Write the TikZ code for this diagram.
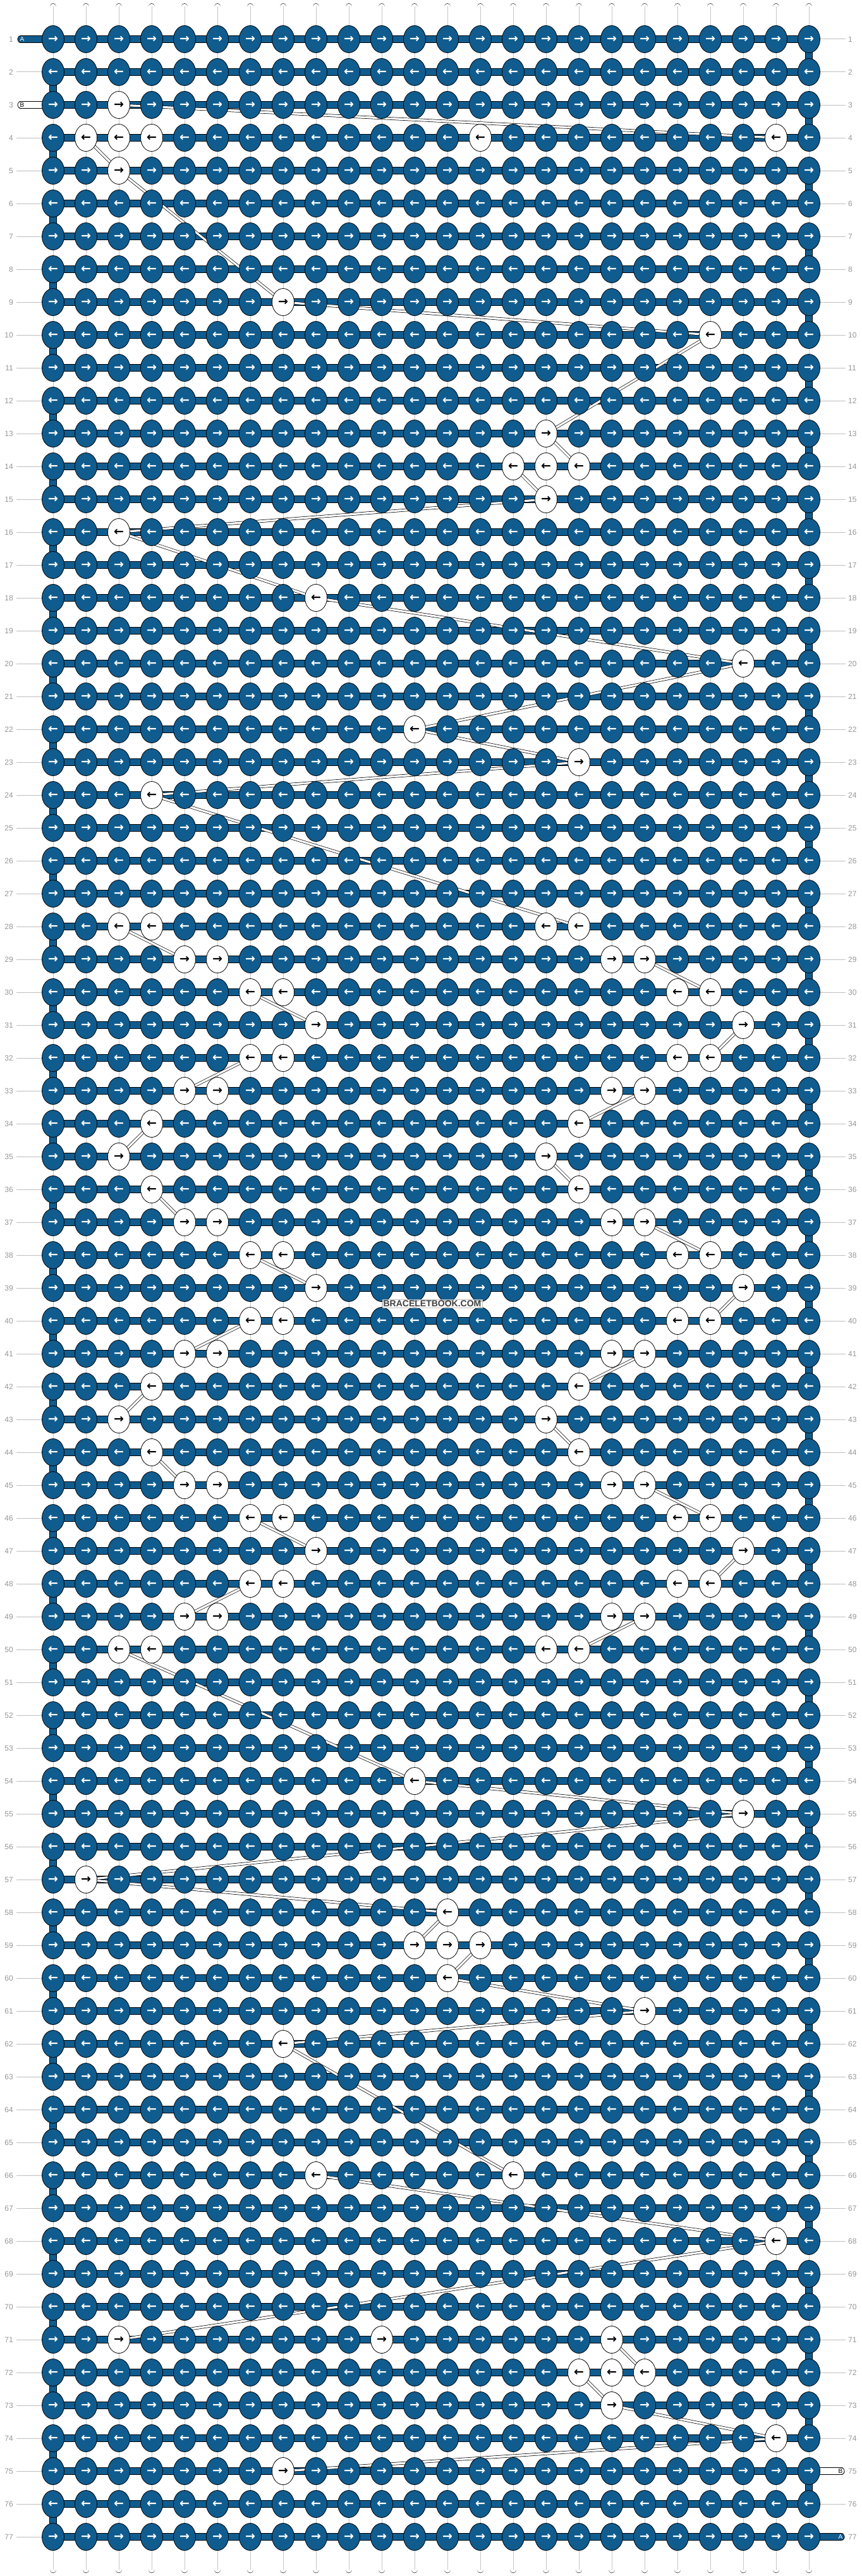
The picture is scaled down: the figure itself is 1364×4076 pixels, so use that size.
\documentclass[tikz,border=0pt]{standalone}
\usepackage{fontspec}
\setmainfont{Liberation Sans}
\newfontfamily\arrowfont{DejaVu Sans}
\usepackage{tikz}
\usetikzlibrary{shapes.geometric}

\definecolor{knotblue}{RGB}{16,92,143}
\definecolor{numgray}{RGB}{150,150,150}
\definecolor{linegray}{RGB}{190,190,190}

\pgfdeclarelayer{strings}
\pgfdeclarelayer{bars}
\pgfdeclarelayer{threads}
\pgfsetlayers{strings,bars,threads,main}

% knots tied with thread B (row/columns)
\newcommand\whiteknots{3/{3},4/{2,3,4,14,23},5/{3},9/{8},10/{21},13/{16},14/{15,16,17},15/{16},16/{3},18/{9},20/{22},22/{12},23/{17},24/{4},28/{3,4,16,17},29/{5,6,18,19},30/{7,8,20,21},31/{9,22},32/{7,8,20,21},33/{5,6,18,19},34/{4,17},35/{3,16},36/{4,17},37/{5,6,18,19},38/{7,8,20,21},39/{9,22},40/{7,8,20,21},41/{5,6,18,19},42/{4,17},43/{3,16},44/{4,17},45/{5,6,18,19},46/{7,8,20,21},47/{9,22},48/{7,8,20,21},49/{5,6,18,19},50/{3,4,16,17},54/{12},55/{22},57/{2},58/{13},59/{12,13,14},60/{13},61/{19},62/{8},66/{9,15},68/{23},71/{3,11,18},72/{17,18,19},73/{18},74/{23},75/{8}}

\begin{document}
\begin{tikzpicture}[x=1pt, y=-1pt,
      knot/.style={ellipse, draw=black, line width=0.8pt, minimum width=35pt, minimum height=43pt, inner sep=0pt, font=\arrowfont\bfseries\fontsize{19}{19}\selectfont},
      strand/.style={draw=black, double=white, line width=0.7pt, double distance=9.3pt, line cap=round},
      strandmid/.style={draw=gray!45, line width=0.8pt},
      bar/.style={draw=black, double=knotblue, line width=0.9pt, double distance=9.5pt},
      wbar/.style={draw=black, double=white, line width=0.9pt, double distance=9.5pt},
      bthread/.style={draw=black, double=white, line width=0.7pt, double distance=3.2pt},
      rownum/.style={inner sep=0pt, text=numgray, font=\fontsize{12}{12}\selectfont},
      numline/.style={draw=linegray, line width=1pt},
      lbl/.style={inner sep=0pt, font=\fontsize{10}{10}\selectfont},
      watermark/.style={draw=gray!50, line width=0.5pt, fill=white, fill opacity=0.7, draw opacity=1, text opacity=1, text=black!75, inner sep=1.5pt, font=\bfseries\fontsize{14}{14}\selectfont}
      ]
    \useasboundingbox (0,0) rectangle (1364,4076);

    % mark the B knots
    \foreach \r/\cl in \whiteknots {
      \foreach \c in \cl {\expandafter\gdef\csname wk-\r-\c\endcsname{}}
    }

    % Knots
    \foreach \r in {1,...,77}{
      \ifodd\r \def\karrow{→}\else\def\karrow{←}\fi
      \foreach \c in {1,...,24}{
        \ifcsname wk-\r-\c\endcsname \def\kfill{white}\def\ktext{black}\else\def\kfill{knotblue}\def\ktext{white}\fi
        \node[knot, fill=\kfill, text=\ktext] (k-\r-\c) at ({84+52*(\c-1)},{62+52*(\r-1)}) {\karrow};
      }
    }

    % Strings
    \begin{pgfonlayer}{strings}
    \foreach \c in {1,...,24}{
      \coordinate (top-\c) at ({84+52*(\c-1)},10.5);
      \coordinate (bot-\c) at ({84+52*(\c-1)},4066);
      \draw[strand] (top-\c) -- (bot-\c);
      \draw[strandmid] (top-\c) -- (bot-\c);
    }
    \end{pgfonlayer}

    % Thread A rows and turns
    \coordinate (a-in) at (33,62);
    \coordinate (b-in) at (33,166);
    \coordinate (b-out) at (1331,3910);
    \coordinate (a-out) at (1331,4014);
    \begin{pgfonlayer}{bars}
    \foreach \r in {1,...,77}{
      \draw[bar] (k-\r-1.center) -- (k-\r-24.center);
    }
    \foreach \r [evaluate=\r as \s using int(\r+1)] in {1,3,...,75}{
      \draw[bar] (k-\r-24.center) -- (k-\s-24.center);
    }
    \foreach \r [evaluate=\r as \s using int(\r+1)] in {2,4,...,76}{
      \draw[bar] (k-\r-1.center) -- (k-\s-1.center);
    }
    \draw[bar, line cap=round] (a-in) -- (k-1-1.center);
    \draw[wbar, line cap=round] (b-in) -- (k-3-1.center);
    \draw[wbar, line cap=round] (k-75-24.center) -- (b-out);
    \draw[bar, line cap=round] (k-77-24.center) -- (a-out);
    \end{pgfonlayer}

    \node[lbl, text=white] (a-in-l) at (35,62) {A};
    \node[lbl, text=black] (b-in-l) at (35,166) {B};
    \node[lbl, text=black] (b-out-l) at (1330,3910) {B};
    \node[lbl, text=white] (a-out-l) at (1330,4014) {A};

    % Thread B behind the work
    \begin{pgfonlayer}{threads}
    \foreach \ra/\ca/\rb/\cb in {3/3/4/23, 4/2/5/3, 5/3/9/8, 9/8/10/21, 10/21/13/16, 13/16/14/17,
        14/15/15/16, 15/16/16/3, 16/3/18/9, 18/9/20/22, 20/22/22/12, 22/12/23/17, 23/17/24/4,
        24/4/28/17, 28/3/29/5, 29/19/30/21, 30/7/31/9, 31/22/32/21, 32/7/33/5, 33/19/34/17,
        34/4/35/3, 35/16/36/17, 36/4/37/5, 37/19/38/21, 38/7/39/9, 39/22/40/21, 40/7/41/5,
        41/19/42/17, 42/4/43/3, 43/16/44/17, 44/4/45/5, 45/19/46/21, 46/7/47/9, 47/22/48/21,
        48/7/49/5, 49/19/50/17, 50/3/54/12, 54/12/55/22, 55/22/57/2, 57/2/58/13, 58/13/59/12,
        59/14/60/13, 60/13/61/19, 61/19/62/8, 62/8/66/15, 66/9/68/23, 68/23/71/3, 71/18/72/19,
        72/17/73/18, 73/18/74/23, 74/23/75/8}{
      \draw[bthread] (k-\ra-\ca.center) -- (k-\rb-\cb.center);
    }
    \end{pgfonlayer}

    % Row numbers
    \foreach \r in {1,...,77}{
      \node[rownum, anchor=east] (ln-\r) at (21,{62+52*(\r-1)}) {\r};
      \node[rownum, anchor=west] (rn-\r) at (1342,{62+52*(\r-1)}) {\r};
      \ifnum\r=1 \else\ifnum\r=3 \else \draw[numline] (ln-\r.east) ++(5,0) -- (k-\r-1.west);\fi\fi
      \ifnum\r=75 \else\ifnum\r=77 \else \draw[numline] (rn-\r.west) ++(-4,0) -- (k-\r-24.east);\fi\fi
    }

    \node[watermark] (wm) at (684,2063) {BRACELETBOOK.COM};
\end{tikzpicture}
\end{document}
